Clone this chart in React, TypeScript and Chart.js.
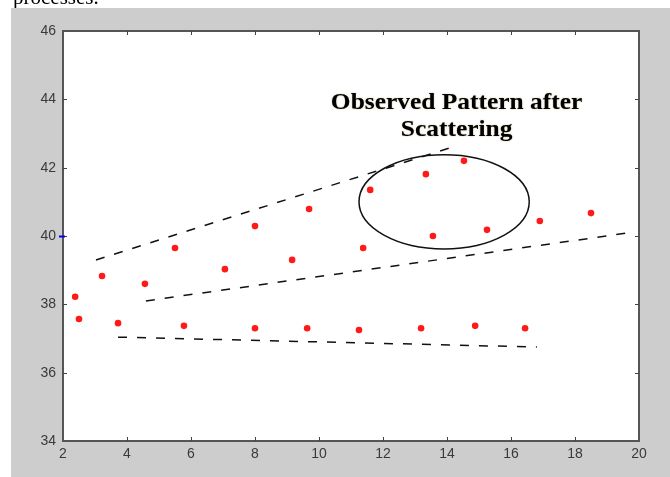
import React, { useEffect, useRef } from "react";
import { Chart, registerables } from "chart.js";

Chart.register(...registerables);

const X_TICKS = [2, 4, 6, 8, 10, 12, 14, 16, 18, 20];
const Y_TICKS = [34, 36, 38, 40, 42, 44, 46];

const POINT_X = [2.38, 2.5, 3.22, 3.72, 4.56, 5.5, 5.78, 7.06, 8.0, 8.0, 9.16, 9.69, 9.63, 11.38, 11.6, 11.25, 13.34, 13.56, 13.19, 14.53, 15.25, 14.88, 16.9, 16.44, 18.5];
const POINT_Y = [38.22, 37.57, 38.83, 37.45, 38.6, 39.65, 37.37, 39.03, 40.29, 37.3, 39.3, 40.79, 37.3, 39.65, 41.35, 37.25, 41.81, 40.0, 37.3, 42.2, 40.18, 37.37, 40.44, 37.3, 40.67];

const UPPER_LINE_X = [3.03, 14.16];
const UPPER_LINE_Y = [39.3, 42.6];
const MIDDLE_LINE_X = [4.59, 19.66];
const MIDDLE_LINE_Y = [38.1, 40.09];
const LOWER_LINE_X = [3.72, 16.81];
const LOWER_LINE_Y = [37.04, 36.75];

const ELLIPSE_CENTER = [13.91, 41.0];
const ELLIPSE_RADII = [2.66, 1.38];

const NOTE_LINES = ["Observed Pattern after", "Scattering"];
const NOTE_X = [14.3, 14.3];
const NOTE_Y = [43.9, 43.11];

const toXY = (xs: number[], ys: number[]) => xs.map((x, i) => ({ x, y: ys[i] }));

const GRAY = "#cdcdcd";

const decorPlugin = {
  id: "decor",
  beforeDraw(chart: any) {
    const { ctx, chartArea: a } = chart;
    ctx.save();
    ctx.fillStyle = "#ffffff";
    ctx.fillRect(0, 0, chart.width, chart.height);
    ctx.fillStyle = GRAY;
    ctx.fillRect(11, 8, chart.width - 11, chart.height - 8);
    ctx.fillStyle = "#ffffff";
    ctx.fillRect(a.left, a.top, a.right - a.left, a.bottom - a.top);
    ctx.restore();
  },
  afterDatasetsDraw(chart: any) {
    const { ctx, chartArea: a, scales } = chart;
    const xs = scales.x;
    const ys = scales.y;
    ctx.save();
    // ellipse
    const cx = xs.getPixelForValue(ELLIPSE_CENTER[0]);
    const cy = ys.getPixelForValue(ELLIPSE_CENTER[1]);
    const rx = Math.abs(xs.getPixelForValue(ELLIPSE_CENTER[0] + ELLIPSE_RADII[0]) - cx);
    const ry = Math.abs(ys.getPixelForValue(ELLIPSE_CENTER[1] + ELLIPSE_RADII[1]) - cy);
    ctx.beginPath();
    ctx.ellipse(cx, cy, rx, ry, 0, 0, Math.PI * 2);
    ctx.strokeStyle = "#111";
    ctx.lineWidth = 1.5;
    ctx.stroke();
    // note text
    ctx.fillStyle = "#000";
    ctx.font = "bold 24px 'Liberation Serif', 'Times New Roman', serif";
    ctx.textAlign = "center";
    ctx.textBaseline = "middle";
    NOTE_LINES.forEach((t, i) => {
      ctx.shadowColor = "rgba(120,90,0,0.5)";
      ctx.shadowBlur = 1.5;
      const px = xs.getPixelForValue(NOTE_X[i]);
      const py = ys.getPixelForValue(NOTE_Y[i]);
      ctx.save();
      ctx.translate(px, py);
      ctx.scale(1.06, 1);
      ctx.fillText(t, 0, 0);
      ctx.restore();
    });
    ctx.shadowBlur = 0;
    // axes box
    ctx.strokeStyle = "#555";
    ctx.lineWidth = 2;
    ctx.strokeRect(a.left, a.top, a.right - a.left, a.bottom - a.top);
    // inward ticks
    ctx.lineWidth = 1;
    ctx.strokeStyle = "#444";
    const tl = 4;
    X_TICKS.slice(1, -1).forEach((v) => {
      const px = Math.round(xs.getPixelForValue(v)) + 0.5;
      ctx.beginPath();
      ctx.moveTo(px, a.top);
      ctx.lineTo(px, a.top + tl);
      ctx.moveTo(px, a.bottom);
      ctx.lineTo(px, a.bottom - tl);
      ctx.stroke();
    });
    Y_TICKS.slice(1, -1).forEach((v) => {
      const py = Math.round(ys.getPixelForValue(v)) + 0.5;
      ctx.beginPath();
      ctx.moveTo(a.left, py);
      ctx.lineTo(a.left + tl, py);
      ctx.moveTo(a.right, py);
      ctx.lineTo(a.right - tl, py);
      ctx.stroke();
    });
    // blue marker at 40 on left axis
    const by = Math.round(ys.getPixelForValue(40)) + 0.5;
    ctx.strokeStyle = "#0000ff";
    ctx.lineWidth = 2;
    ctx.beginPath();
    ctx.moveTo(a.left - 4, by);
    ctx.lineTo(a.left + 2, by);
    ctx.stroke();
    ctx.restore();
  },
};

const dashed = (label: string, xs: number[], ys: number[]) => ({
  type: "line" as const,
  label,
  data: toXY(xs, ys),
  borderColor: "#111",
  borderWidth: 1.5,
  borderDash: [9, 10],
  pointRadius: 0,
  showLine: true,
  fill: false,
});

export default function App() {
  const ref = useRef<HTMLCanvasElement | null>(null);
  useEffect(() => {
    if (!ref.current) return;
    const tickFont = { family: "'Liberation Sans', Arial, sans-serif", size: 14 };
    const chart = new Chart(ref.current, {
      type: "scatter",
      data: {
        datasets: [
          {
            label: "points",
            data: toXY(POINT_X, POINT_Y),
            backgroundColor: "#ff1a1a",
            borderColor: "#ff1a1a",
            pointRadius: 3.3,
            borderWidth: 0,
          },
          dashed("upper", UPPER_LINE_X, UPPER_LINE_Y),
          dashed("middle", MIDDLE_LINE_X, MIDDLE_LINE_Y),
          dashed("lower", LOWER_LINE_X, LOWER_LINE_Y),
        ] as any,
      },
      options: {
        animation: false,
        responsive: false,
        maintainAspectRatio: false,
        layout: { padding: { top: 31, right: 31, left: 0, bottom: 0 } },
        plugins: { legend: { display: false }, tooltip: { enabled: false } },
        scales: {
          x: {
            type: "linear",
            min: 2,
            max: 20,
            afterBuildTicks: (s: any) => {
              s.ticks = X_TICKS.map((v) => ({ value: v }));
            },
            afterFit: (s: any) => {
              s.height = 36;
            },
            ticks: { font: tickFont, color: "#3a3a3a", padding: 5, maxRotation: 0, autoSkip: false },
            grid: { display: false, drawTicks: false },
            border: { display: false },
          },
          y: {
            type: "linear",
            min: 34,
            max: 46,
            afterBuildTicks: (s: any) => {
              s.ticks = Y_TICKS.map((v) => ({ value: v }));
            },
            afterFit: (s: any) => {
              s.width = 63;
            },
            ticks: { font: tickFont, color: "#3a3a3a", padding: 7, autoSkip: false },
            grid: { display: false, drawTicks: false },
            border: { display: false },
          },
        },
      },
      plugins: [decorPlugin],
    });
    return () => chart.destroy();
  }, []);
  return (
    <div style={{ position: "fixed", left: 0, top: 0, width: 670, height: 477, background: "#fff", overflow: "hidden" }}>
      <canvas ref={ref} width={670} height={477} style={{ position: "absolute", left: 0, top: 0 }} />
      <div
        style={{
          position: "absolute",
          left: 0,
          top: 0,
          width: 670,
          height: 8,
          overflow: "hidden",
        }}
      >
        <div
          style={{
            position: "absolute",
            left: 13,
            top: -15,
            fontFamily: "'Liberation Serif', 'Times New Roman', serif",
            fontSize: 21,
            color: "#000",
            whiteSpace: "nowrap",
          }}
        >
          processes.
        </div>
      </div>
    </div>
  );
}
